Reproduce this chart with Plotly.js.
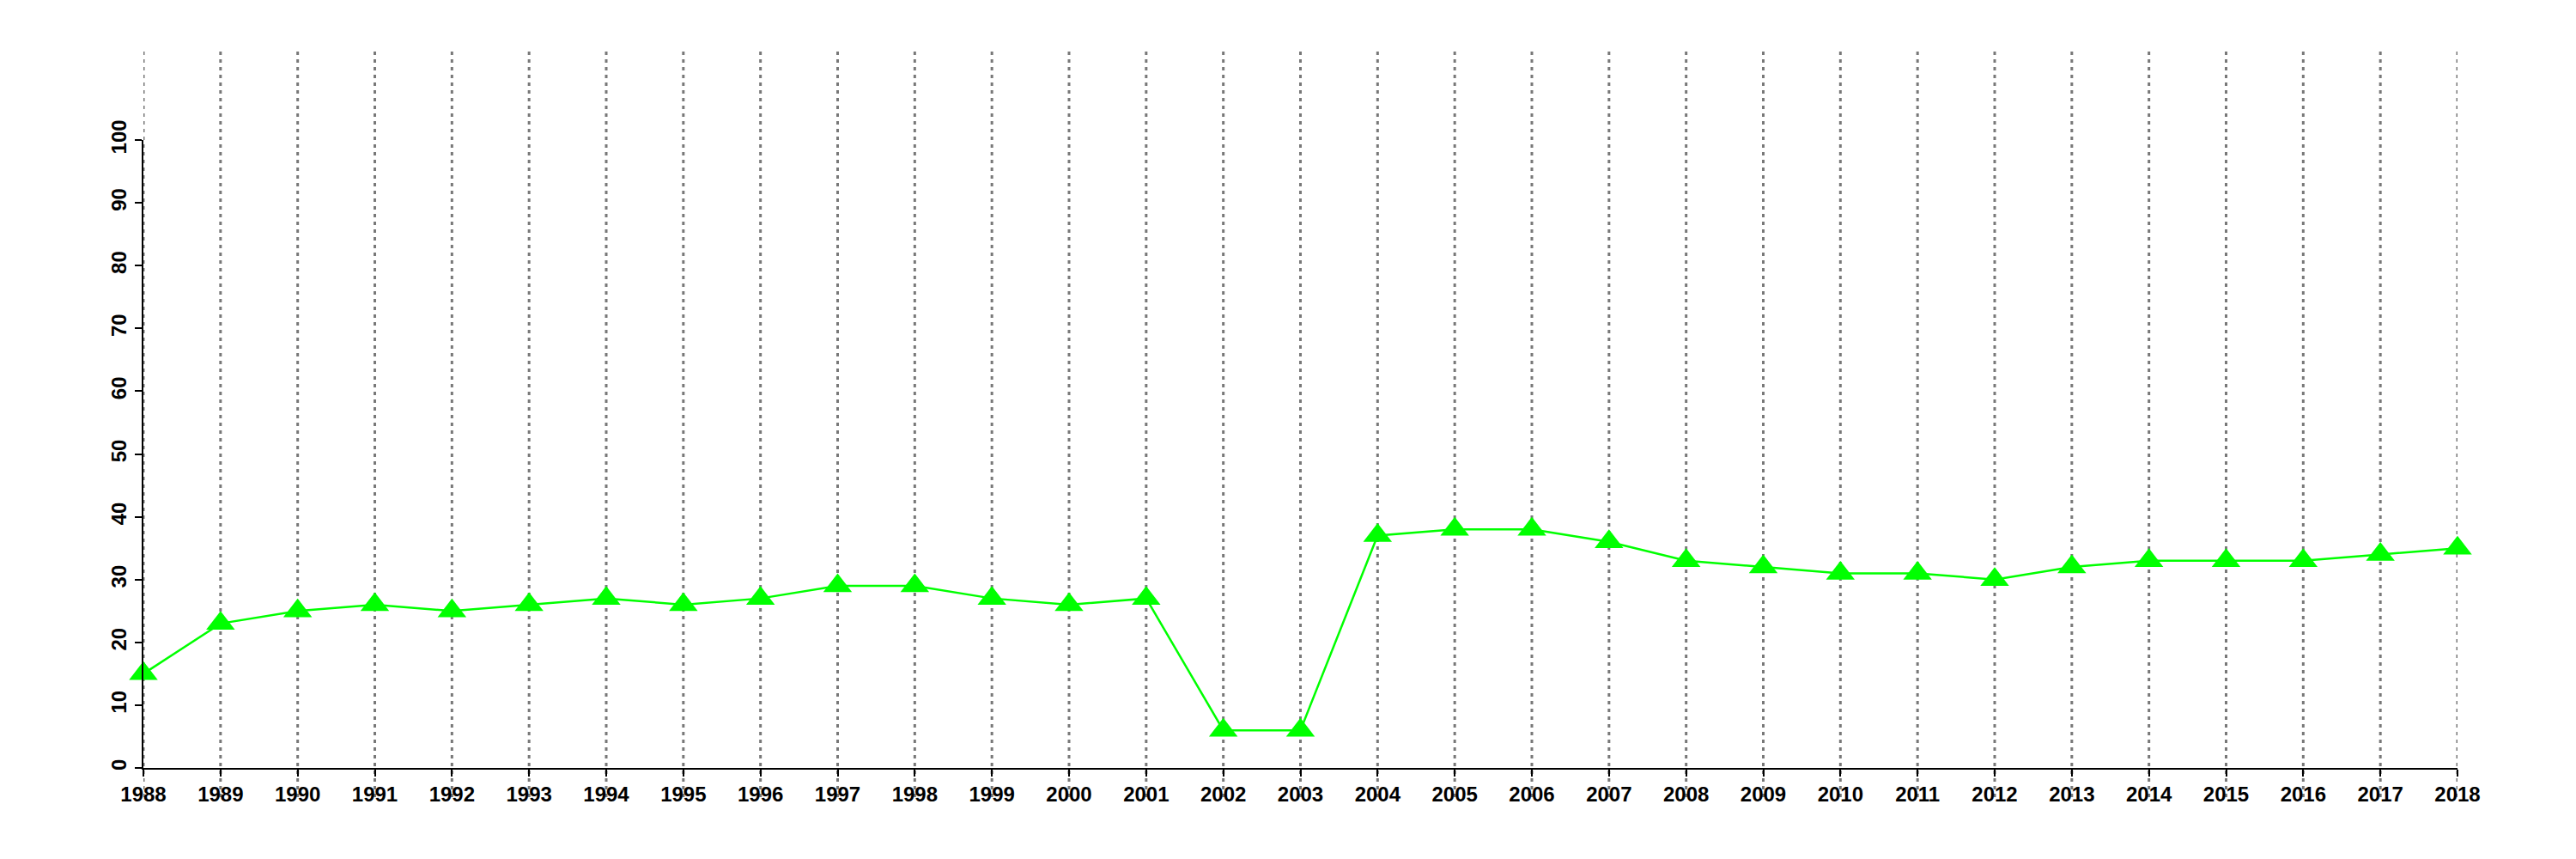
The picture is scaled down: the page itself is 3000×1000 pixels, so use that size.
<!DOCTYPE html>
<html>
<head>
<meta charset="utf-8">
<script src="https://cdn.plot.ly/plotly-3.0.1.min.js"></script>
<style>html,body{margin:0;padding:0;background:#fff;}#chart{width:3000px;height:1000px;}</style>
</head>
<body>
<div id="chart"></div>
<script>
const years = [1988,1989,1990,1991,1992,1993,1994,1995,1996,1997,1998,1999,2000,2001,2002,2003,2004,2005,2006,2007,2008,2009,2010,2011,2012,2013,2014,2015,2016,2017,2018];
const values = [15,23,25,26,25,26,27,26,27,29,29,27,26,27,6,6,37,38,38,36,33,32,31,31,30,32,33,33,33,34,35];
const yTicks = [0,10,20,30,40,50,60,70,80,90,100];

const font = {family: '"Liberation Sans", Arial, sans-serif', size: 24, color: '#000'};

const trace = {
  x: years, y: values, type: 'scatter', mode: 'lines+markers',
  line: {color: '#00ff00', width: 2.5},
  marker: {symbol: 'triangle-up', size: 29, color: '#00ff00'},
  cliponaxis: false, showlegend: false, hoverinfo: 'x+y'
};

const plotTop = 163, plotBottom = 894, plotH = plotBottom - plotTop;
const shapes = years.map(yr => ({
  type: 'line', xref: 'x', yref: 'paper', x0: yr, x1: yr,
  y0: -(928 - plotBottom) / plotH, y1: (plotBottom - 60) / plotH,
  line: {color: '#787878', width: 3, dash: '4px,5px'}, layer: 'below'
}));

const layout = {
  width: 3000, height: 1000,
  margin: {l: 167, r: 138, t: plotTop, b: 1000 - plotBottom, pad: 0},
  paper_bgcolor: '#fff', plot_bgcolor: '#fff',
  font: font,
  showlegend: false,
  xaxis: {
    range: [1988, 2018], tickmode: 'array', tickvals: years, ticktext: years.map(String),
    showgrid: false, zeroline: false, showline: true, linecolor: '#000', linewidth: 2,
    ticks: 'outside', ticklen: 8, tickwidth: 2, tickcolor: '#000',
    tickfont: {family: font.family, size: 24, color: '#000', weight: 'bold'}, tickangle: 0
  },
  yaxis: {
    range: [0, 100], tickmode: 'array', tickvals: yTicks, ticktext: yTicks.map(String),
    showgrid: false, zeroline: false, showline: true, linecolor: '#000', linewidth: 2,
    ticks: 'outside', ticklen: 8, tickwidth: 2, tickcolor: '#000',
    tickfont: {family: font.family, size: 24, color: '#000', weight: 'bold'}, tickangle: -90
  },
  shapes: shapes
};

Plotly.newPlot('chart', [trace], layout, {staticPlot: true, displayModeBar: false});
</script>
</body>
</html>
